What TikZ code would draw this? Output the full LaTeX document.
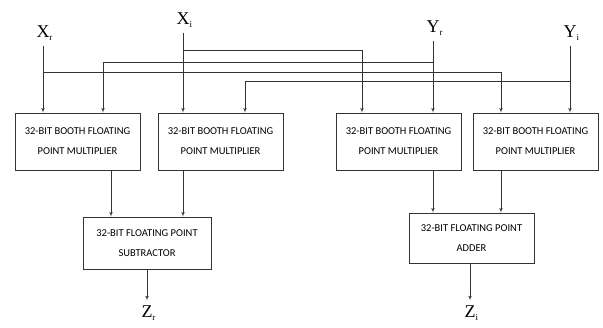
\documentclass[tikz,border=0pt]{standalone}
\usepackage{fontspec}
\setmainfont{Liberation Serif}
\newfontfamily\boxfont{Carlito}
\usetikzlibrary{arrows, positioning, calc}

\newcommand{\subsig}[1]{\rlap{\raisebox{-3pt}{\fontsize{9}{9}\selectfont #1}}}

\begin{document}
\begin{tikzpicture}[
    x=1pt, y=-1pt, % pixel-like units, y downwards
    >=latex',
    block/.style={rectangle, draw=black!80, line width=0.6pt, minimum width=125pt, minimum height=57pt, inner sep=0pt, align=center, font=\boxfont\fontsize{10.5}{20}\selectfont},
    sig/.style={inner sep=5pt, font=\fontsize{18}{18}\selectfont},
    line/.style={draw=black!80, ->, line width=0.6pt}
]
    \useasboundingbox (0,0) rectangle (603,327);

    % input signals
    \node[sig] (xr) at (43,33) {X\subsig{r}};
    \node[sig] (xi) at (183,20) {X\subsig{i}};
    \node[sig] (yr) at (433,28) {Y\subsig{r}};
    \node[sig] (yi) at (570,33) {Y\subsig{i}};

    % multipliers
    \node[block] (mult1) at (77.5,141.5) {32-BIT BOOTH FLOATING\\POINT MULTIPLIER};
    \node[block] (mult2) at (220.5,141.5) {32-BIT BOOTH FLOATING\\POINT MULTIPLIER};
    \node[block] (mult3) at (398.5,141.5) {32-BIT BOOTH FLOATING\\POINT MULTIPLIER};
    \node[block] (mult4) at (535.5,141.5) {32-BIT BOOTH FLOATING\\POINT MULTIPLIER};

    % subtractor and adder
    \node[block, minimum width=128pt, minimum height=52pt] (sub) at (147,243) {32-BIT FLOATING POINT\\SUBTRACTOR};
    \node[block, minimum height=50pt] (add) at (471.5,238) {32-BIT FLOATING POINT\\ADDER};

    % outputs
    \node[sig] (zr) at (147,313) {Z\subsig{r}};
    \node[sig] (zi) at (470,313) {Z\subsig{i}};

    % straight inputs
    \path[line] (xr) -- (xr |- mult1.north);
    \path[line] (xi) -- (xi |- mult2.north);
    \path[line] (yr) -- (yr |- mult3.north);
    \path[line] (yi) -- (yi |- mult4.north);

    % crossed inputs
    \path[line] (xi |- 0,50) -| ([xshift=-36.5pt]mult3.north);
    \path[line] (yr |- 0,62) -| ([xshift=25.5pt]mult1.north);
    \path[line] (xr |- 0,72) -| ([xshift=-34.5pt]mult4.north);
    \path[line] (yi |- 0,81) -| ([xshift=24.5pt]mult2.north);

    % products to subtractor and adder
    \path[line] ([xshift=-36pt]sub.north |- mult1.south) -- ([xshift=-36pt]sub.north);
    \path[line] ([xshift=36pt]sub.north |- mult2.south) -- ([xshift=36pt]sub.north);
    \path[line] ([xshift=-38.5pt]add.north |- mult3.south) -- ([xshift=-38.5pt]add.north);
    \path[line] ([xshift=29.5pt]add.north |- mult4.south) -- ([xshift=29.5pt]add.north);

    % results
    \path[line] (sub) -- (zr);
    \path[line] (add.south -| zi) -- (zi);

\end{tikzpicture}
\end{document}
